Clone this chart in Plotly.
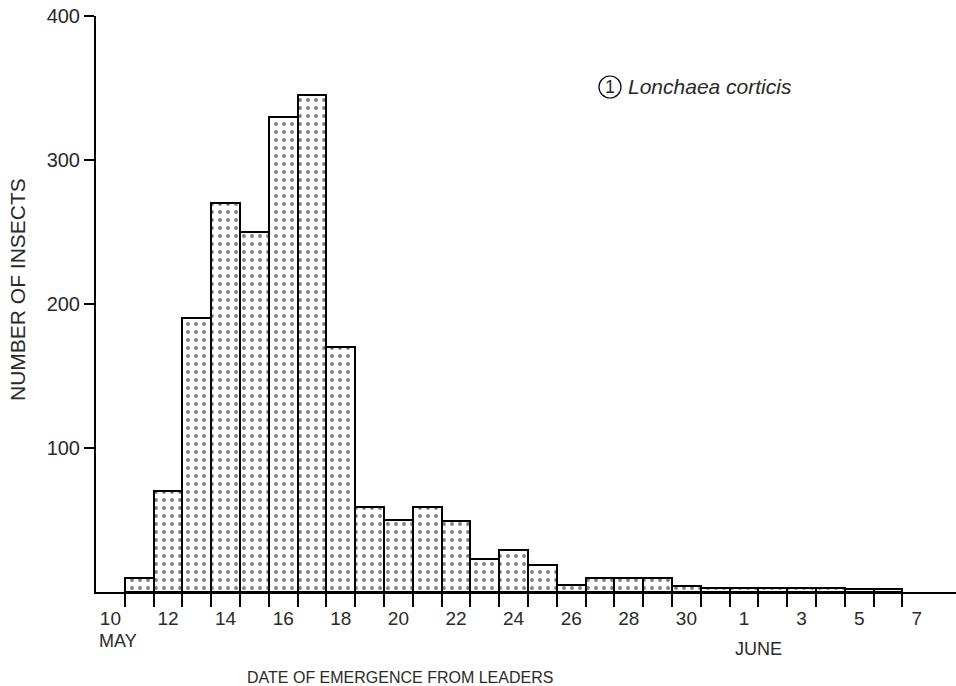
import plotly.graph_objects as go

# Day index: 0 = 10 May, 21 = 31 May, 22 = 1 June ...
day_index = list(range(1, 28))
counts = [10, 70, 190, 270, 250, 330, 345, 170, 59, 50, 59, 49, 23, 29, 19,
          5, 10, 10, 10, 4, 3, 3, 3, 3, 3, 2, 2]
x_tick_pos = [0, 2, 4, 6, 8, 10, 12, 14, 16, 18, 20, 22, 24, 26, 28]
x_tick_text = ["10", "12", "14", "16", "18", "20", "22", "24", "26", "28", "30",
               "1", "3", "5", "7"]
bin_edges = [i + 0.5 for i in range(0, 28)]
y_tick_vals = [100, 200, 300, 400]
y_tick_text = ["100", "200", "300", "400"]

FONT = "Liberation Sans"
INK = "#2a2a2a"

W, H = 956, 686
L, R, T, B = 96, 0, 16, 94
PW, PH = W - L - R, H - T - B


def px(x):
    return (x - L) / PW


def py(y):
    return (H - B - y) / PH


fig = go.Figure()
fig.add_trace(go.Bar(
    x=day_index,
    y=counts,
    width=1,
    marker=dict(
        color="white",
        line=dict(color="black", width=2),
        pattern=dict(shape=".", fgcolor="black", bgcolor="white", size=8, solidity=0.18),
    ),
    hoverinfo="x+y",
))

fig.update_layout(
    width=W, height=H,
    margin=dict(l=L, r=R, t=T, b=B),
    paper_bgcolor="white",
    plot_bgcolor="white",
    showlegend=False,
    bargap=0,
    font=dict(family=FONT, color=INK),
    xaxis=dict(
        range=[-0.5, 29.36],
        showgrid=False, zeroline=False,
        showline=True, linecolor="black", linewidth=2,
        tickvals=x_tick_pos, ticktext=x_tick_text,
        ticks="outside", ticklen=8, tickcolor="rgba(0,0,0,0)",
        tickfont=dict(size=19, family=FONT, color=INK),
        minor=dict(tickvals=bin_edges, ticks="outside", ticklen=13, tickwidth=2,
                   tickcolor="black", showgrid=False),
    ),
    yaxis=dict(
        range=[0, 400],
        showgrid=False, zeroline=False,
        showline=True, linecolor="black", linewidth=2,
        tickvals=y_tick_vals, ticktext=y_tick_text,
        ticks="outside", ticklen=10, tickwidth=2, tickcolor="black",
        tickfont=dict(size=20, family=FONT, color=INK),
    ),
)

fig.add_shape(type="circle", xref="paper", yref="paper",
              x0=px(599), x1=px(621), y0=py(98), y1=py(76),
              line=dict(color="black", width=1.2))

annotations = [
    dict(x=px(610), y=py(87), text="1", font=dict(size=18)),
    dict(x=px(626), y=py(87), text="<i>Lonchaea corticis</i>", xanchor="left",
         font=dict(size=21)),
    dict(x=px(118), y=py(641), text="MAY", font=dict(size=18)),
    dict(x=px(758), y=py(649), text="JUNE", font=dict(size=18)),
    dict(x=px(400), y=py(677), text="DATE OF EMERGENCE FROM LEADERS", font=dict(size=16)),
    dict(x=px(17), y=py(290), text="NUMBER OF INSECTS", textangle=-90, font=dict(size=21)),
]
for a in annotations:
    a.setdefault("xanchor", "center")
    fig.add_annotation(xref="paper", yref="paper", showarrow=False,
                       yanchor="middle", **a)

fig.write_html("out.html", config={"displayModeBar": False},
               post_script="document.body.style.margin='0px';")
